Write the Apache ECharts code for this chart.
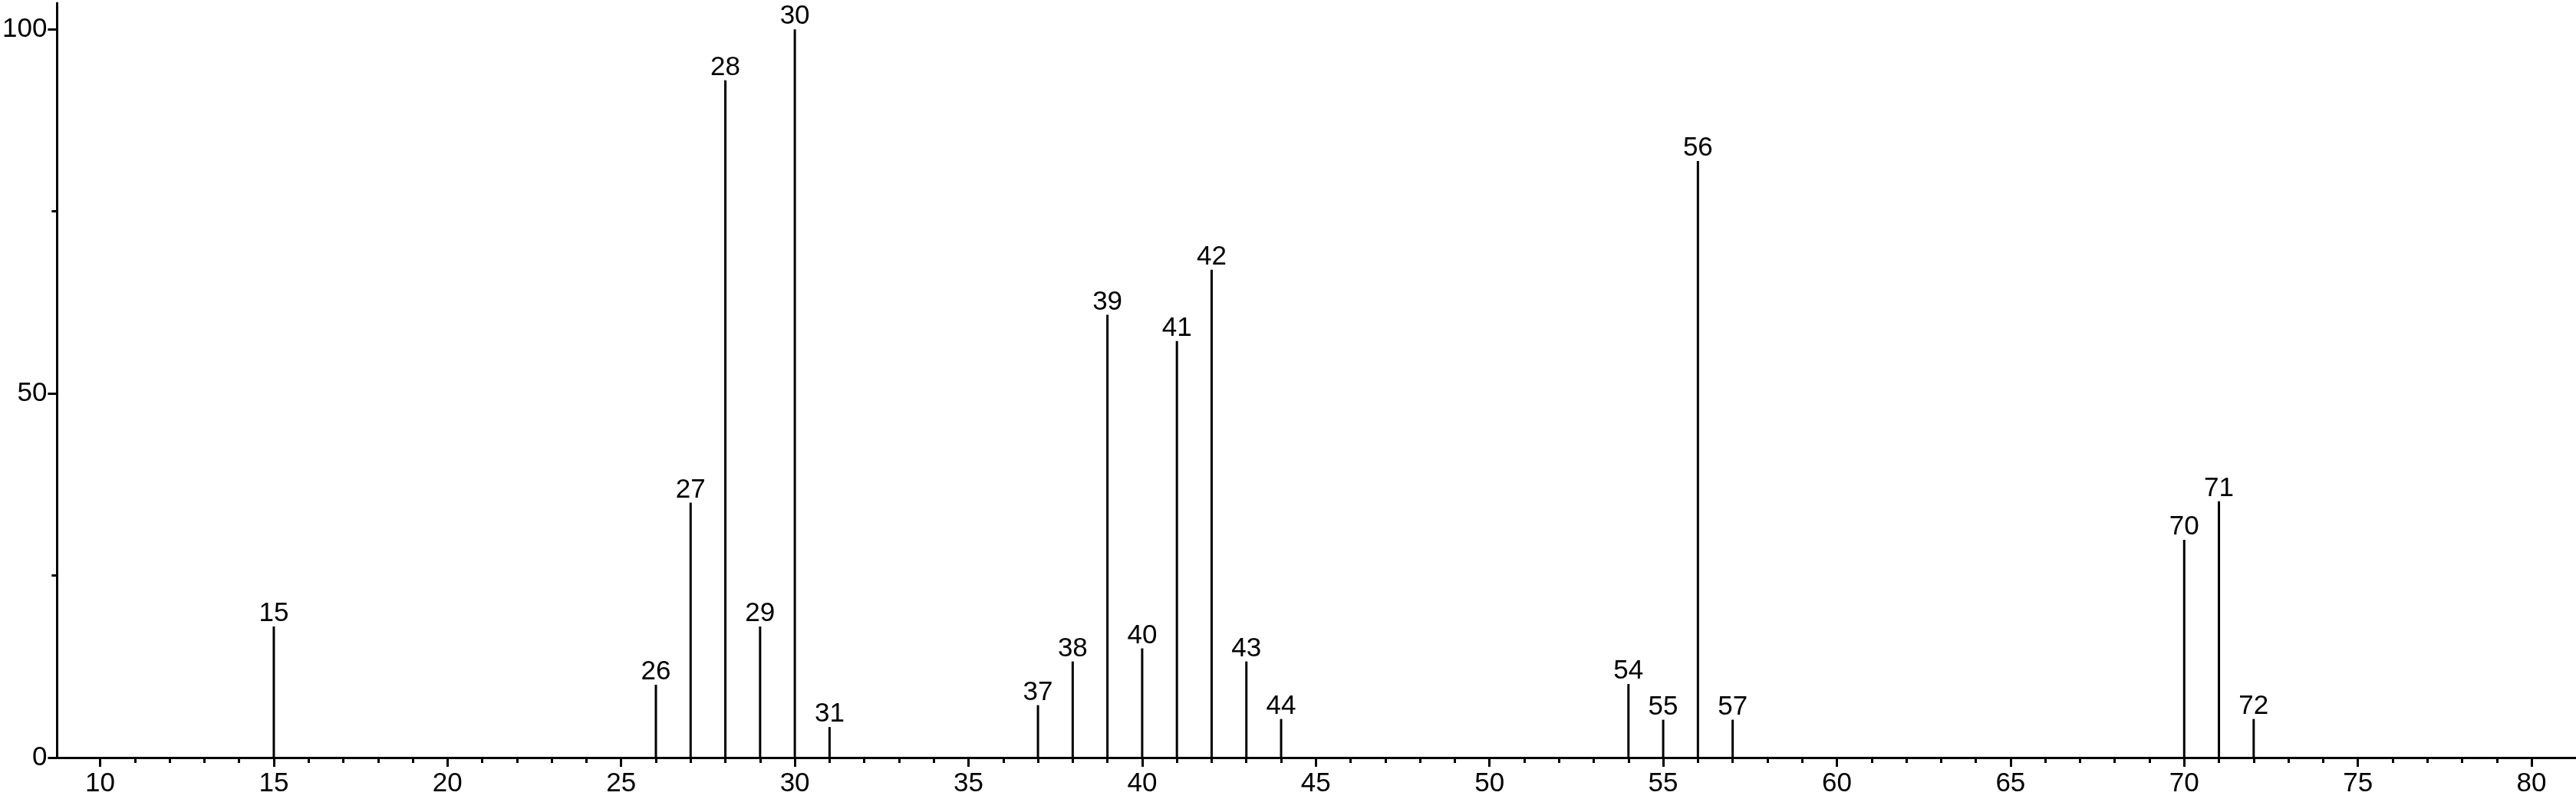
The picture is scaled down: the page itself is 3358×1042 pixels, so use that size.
<!DOCTYPE html>
<html>
<head>
<meta charset="utf-8">
<script src="https://cdn.jsdelivr.net/npm/echarts@6/dist/echarts.min.js"></script>
<style>
html,body{margin:0;padding:0;background:#fff;}
#chart{width:3358px;height:1042px;}
</style>
</head>
<body>
<div id="chart"></div>
<script>
// m/z values of the peaks
const mzValues = [15, 26, 27, 28, 29, 30, 31, 37, 38, 39, 40, 41, 42, 43, 44, 54, 55, 56, 57, 70, 71, 72];
// relative intensities
const intensities = [18, 10, 35, 93, 18, 100, 4.2, 7.2, 13.2, 60.8, 15, 57.2, 67, 13.2, 5.3, 10.1, 5.2, 81.9, 5.2, 29.9, 35.2, 5.3];
// axis tick labels
const xMajorTicks = [10, 15, 20, 25, 30, 35, 40, 45, 50, 55, 60, 65, 70, 75, 80];
const yMajorTicks = [0, 50, 100];
const yMinorTicks = [25, 75];

const xMinorTicks = [];
for (let v = xMajorTicks[0]; v <= xMajorTicks[xMajorTicks.length - 1]; v++) {
  if (xMajorTicks.indexOf(v) < 0) xMinorTicks.push(v);
}

const FONT = "'Liberation Sans', Arial, sans-serif";
const X_MIN = 8.76, X_MAX = 81.28, Y_MIN = 0, Y_MAX = 103.6;

const chart = echarts.init(document.getElementById('chart'), null, {renderer: 'canvas'});
chart.setOption({
  animation: false,
  backgroundColor: '#fff',
  grid: {left: 69, right: 0, top: 4, bottom: 54, containLabel: false},
  xAxis: [{
    type: 'value', position: 'bottom', min: X_MIN, max: X_MAX,
    axisLine: {show: true, onZero: false, lineStyle: {color: '#000', width: 3}},
    axisTick: {show: true, length: 12, lineStyle: {color: '#000', width: 3}, customValues: xMajorTicks},
    axisLabel: {show: true, customValues: xMajorTicks, color: '#000', fontSize: 35, fontFamily: FONT, margin: 17},
    splitLine: {show: false}
  }, {
    type: 'value', position: 'bottom', min: X_MIN, max: X_MAX,
    axisLine: {show: false, onZero: false},
    axisTick: {show: true, length: 7, lineStyle: {color: '#000', width: 3}, customValues: xMinorTicks},
    axisLabel: {show: false},
    splitLine: {show: false}
  }],
  yAxis: [{
    type: 'value', position: 'left', min: Y_MIN, max: Y_MAX,
    axisLine: {show: true, onZero: false, lineStyle: {color: '#000', width: 3}},
    axisTick: {show: true, length: 12, lineStyle: {color: '#000', width: 3}, customValues: yMajorTicks},
    axisLabel: {show: true, customValues: yMajorTicks, color: '#000', fontSize: 35, fontFamily: FONT, margin: 13},
    splitLine: {show: false}
  }, {
    type: 'value', position: 'left', min: Y_MIN, max: Y_MAX,
    axisLine: {show: false, onZero: false},
    axisTick: {show: true, length: 7, lineStyle: {color: '#000', width: 3}, customValues: yMinorTicks},
    axisLabel: {show: false},
    splitLine: {show: false}
  }],
  series: [{
    type: 'bar',
    xAxisIndex: 0, yAxisIndex: 0,
    barWidth: 3,
    itemStyle: {color: '#000'},
    data: mzValues.map((m, i) => [m, intensities[i]]),
    label: {
      show: true, position: 'top', distance: -1,
      color: '#000', fontSize: 35, fontFamily: FONT,
      formatter: p => String(p.value[0])
    }
  }]
});
</script>
</body>
</html>
